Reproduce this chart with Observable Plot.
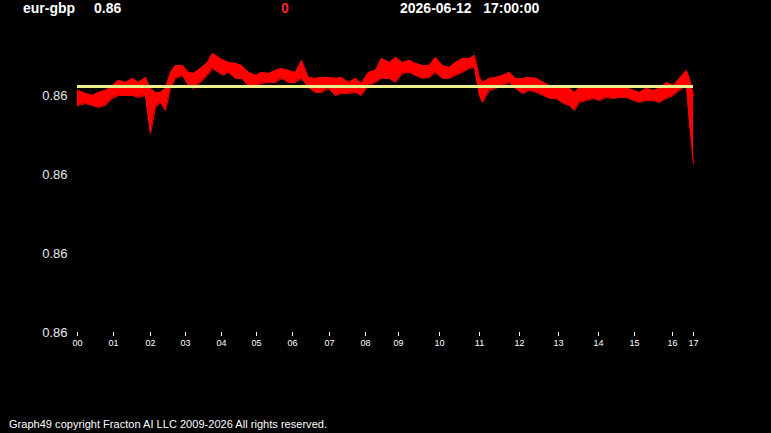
<!DOCTYPE html>
<html>
<head>
<meta charset="utf-8">
<script src="https://cdn.jsdelivr.net/npm/d3@7"></script>
<script src="https://cdn.jsdelivr.net/npm/@observablehq/plot@0.6"></script>
<style>
  html, body { margin: 0; padding: 0; background: #000; }
  #wrap { position: relative; width: 771px; height: 433px; background: #000; overflow: hidden; font-family: "Liberation Sans", Arial, sans-serif; }
  #wrap svg { position: absolute; left: 0; top: 0; }
  .hd { position: absolute; top: 0px; font-weight: bold; font-size: 14px; color: #fff; white-space: pre; line-height: 17px; }
  #foot { position: absolute; left: 9px; top: 418px; font-size: 11px; color: #fff; letter-spacing: 0.03px; white-space: pre; }
</style>
</head>
<body>
<div id="wrap">
  <div class="hd" style="left:23px">eur-gbp</div>
  <div class="hd" style="left:94px">0.86</div>
  <div class="hd" style="left:281px;color:#ff2020">0</div>
  <div class="hd" style="left:400px">2026-06-12   17:00:00</div>
  <div id="foot">Graph49 copyright Fracton AI LLC 2009-2026 All rights reserved.</div>
</div>
<script>
// sample index (intraday, 00:00 -> 17:00)
const sampleIdx = [0,1,8,15,21,28,35,41,48,55,61,68,73,78,83,88,93,98,105,111,116,123,130,135,141,146,151,158,164,171,178,184,191,198,204,211,218,224,231,238,244,251,258,264,271,278,284,291,298,304,312,318,325,332,338,345,352,358,365,372,378,385,392,397,402,405,412,418,425,432,438,445,452,459,466,472,479,486,492,497,502,509,516,522,529,536,542,549,556,562,569,576,582,589,596,602,609,612,616];
// high of the price band at each sample
const priceHigh = [.864032,.864032,.864013,.864000,.864019,.864032,.864063,.864095,.864082,.864108,.864082,.864114,.864044,.864019,.864019,.864044,.864146,.864190,.864190,.864146,.864139,.864171,.864209,.864266,.864241,.864222,.864209,.864203,.864190,.864146,.864127,.864146,.864139,.864158,.864171,.864158,.864146,.864222,.864114,.864108,.864114,.864114,.864108,.864114,.864082,.864108,.864076,.864146,.864158,.864234,.864209,.864241,.864209,.864222,.864203,.864190,.864190,.864241,.864190,.864177,.864209,.864234,.864234,.864253,.864114,.864082,.864108,.864114,.864127,.864146,.864108,.864108,.864114,.864108,.864082,.864063,.864063,.864044,.864044,.864019,.864051,.864051,.864044,.864063,.864051,.864051,.864044,.864051,.864032,.864019,.864044,.864032,.864044,.864082,.864063,.864108,.864158,.864108,.864000];
// low of the price band at each sample
const priceLow = [.863937,.863937,.863949,.863937,.863924,.863937,.863981,.864000,.864000,.864000,.863987,.864000,.863759,.863924,.863956,.863905,.864044,.864108,.864127,.864063,.864044,.864082,.864127,.864171,.864146,.864127,.864146,.864108,.864108,.864063,.864051,.864076,.864082,.864082,.864108,.864082,.864082,.864108,.864051,.864019,.864019,.864044,.864000,.864013,.864013,.864019,.864000,.864063,.864082,.864108,.864108,.864082,.864139,.864146,.864127,.864108,.864114,.864146,.864108,.864108,.864127,.864146,.864171,.864177,.864000,.863956,.864032,.864044,.864063,.864082,.864044,.864013,.864032,.864019,.864000,.863981,.863981,.863949,.863937,.863905,.863956,.863968,.863981,.863968,.863987,.863981,.863987,.863987,.863968,.863956,.863968,.863968,.863956,.863981,.864000,.864032,.864063,.863829,.863570];
// reference (open) level
const refLevel = 0.864057;
// hour tick positions (sample index where each hour begins) and labels
const hourStart = [0,36,73,108,144,179,215,252,288,321,362,402,442,481,521,557,595,616];
const hourLabels = ["00","01","02","03","04","05","06","07","08","09","10","11","12","13","14","15","16","17"];
const yTicks = [0.8625, 0.8630, 0.8635, 0.8640];

const data = sampleIdx.map((i, k) => ({i, hi: priceHigh[k], lo: priceLow[k]}));
const labelOf = new Map(hourStart.map((h, k) => [h, hourLabels[k]]));

const chart = Plot.plot({
  width: 771,
  height: 433,
  marginLeft: 77,
  marginRight: 78,
  marginTop: 95,
  marginBottom: 101,
  style: {background: "transparent", color: "#fff", fontFamily: "'Liberation Sans', Arial, sans-serif", overflow: "visible"},
  x: {domain: [0, 616], axis: null, label: null},
  y: {domain: [0.8625, 0.8640], axis: null, label: null},
  marks: [
    Plot.axisY(yTicks, {anchor: "left", tickSize: 0, tickPadding: 10, tickFormat: ".2f", fontSize: 13, fill: "#e8e8e8", label: null}),
    Plot.axisX(hourStart, {anchor: "bottom", tickSize: 4, tickPadding: 3, tickFormat: d => labelOf.get(d), fontSize: 9, fill: "#fff", stroke: "#fff", label: null}),
    Plot.areaY(data, {x: "i", y1: "lo", y2: "hi", fill: "#ff0000"}),
    Plot.lineY(data, {x: "i", y: "hi", stroke: "#ff0000", strokeWidth: 1}),
    Plot.lineY(data, {x: "i", y: "lo", stroke: "#ff0000", strokeWidth: 1}),
    Plot.ruleY([refLevel], {x1: 0, x2: 616, stroke: "#eeee88", strokeWidth: 3})
  ]
});
document.getElementById("wrap").prepend(chart);
</script>
</body>
</html>
